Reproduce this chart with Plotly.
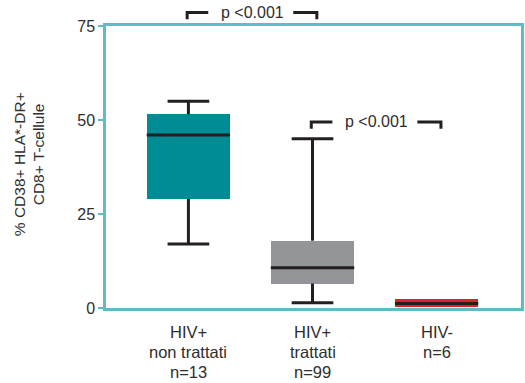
import plotly.graph_objects as go

# Groups and their box-plot summaries (% CD38+ HLA-DR+ of CD8+ T cells)
group_lines = [["HIV+", "non trattati", "n=13"],
               ["HIV+", "trattati", "n=99"],
               ["HIV-", "n=6"]]
whisker_low = [17.0, 1.4, 0.4]
quartile_1 = [29.0, 6.5, 0.4]
medians = [46.0, 10.7, 1.2]
quartile_3 = [51.5, 17.9, 2.4]
whisker_high = [55.0, 45.0, 2.4]

y_ticks = [0, 25, 50, 75]
y_range = [0, 75]
y_title_lines = ["% CD38+ HLA*-DR+", "CD8+ T-cellule"]

# Pairwise comparisons shown with brackets
compare_pairs = [(0, 1), (1, 2)]
compare_levels = [78.6, 49.5]
compare_labels = ["p <0.001", "p <0.001"]

box_colors = ["#008C95", "#939598", "#E21F26"]
dark = "#231F20"
text_color = "#2E2E2E"
axis_color = "#5DBDC6"
font_family = "Liberation Sans, Arial, sans-serif"

x_pos = list(range(len(group_lines)))
box_w = 0.672
cap_w = box_w / 2


def to_paper(v):
    return (v - y_range[0]) / (y_range[1] - y_range[0])


fig = go.Figure()

# Interquartile boxes
fig.add_trace(go.Bar(
    x=x_pos,
    y=[q3 - q1 for q1, q3 in zip(quartile_1, quartile_3)],
    base=quartile_1,
    width=box_w,
    marker=dict(color=box_colors, line=dict(width=0)),
    hoverinfo="skip",
    showlegend=False,
))

# Whiskers and caps
wx, wy = [], []
for x, lo, q1, q3, hi in zip(x_pos, whisker_low, quartile_1, quartile_3, whisker_high):
    if hi > q3:
        wx += [x, x, None, x - cap_w / 2, x + cap_w / 2, None]
        wy += [q3, hi, None, hi, hi, None]
    if lo < q1:
        wx += [x, x, None, x - cap_w / 2, x + cap_w / 2, None]
        wy += [q1, lo, None, lo, lo, None]
fig.add_trace(go.Scatter(x=wx, y=wy, mode="lines",
                         line=dict(color=dark, width=3),
                         hoverinfo="skip", showlegend=False))

# Median lines
mx, my = [], []
for x, m in zip(x_pos, medians):
    mx += [x - box_w / 2, x + box_w / 2, None]
    my += [m, m, None]
fig.add_trace(go.Scatter(x=mx, y=my, mode="lines",
                         line=dict(color=dark, width=3),
                         hoverinfo="skip", showlegend=False))

# Significance brackets (y in paper units so they may sit above the frame)
shapes = []
annotations = []
for (a, b), lvl, lab in zip(compare_pairs, compare_levels, compare_labels):
    left, right = a - 0.01, b + 0.035
    top = to_paper(lvl)
    foot = to_paper(lvl - 1.8)
    left_arm = f"M {left},{foot} L {left},{top} L {left + 0.17},{top}"
    right_arm = f"M {right - 0.19},{top} L {right},{top} L {right},{foot}"
    for p in (left_arm, right_arm):
        shapes.append(dict(type="path", xref="x", yref="paper", path=p,
                           line=dict(color=dark, width=3)))
    annotations.append(dict(
        x=(left + right) / 2, y=top, xref="x", yref="paper",
        text=lab, showarrow=False, xanchor="center", yanchor="middle",
        font=dict(family=font_family, size=16, color=text_color),
    ))

# Category labels, one line at a time
line_offsets = [23.5, 43.5, 63.5]
for x, lines in zip(x_pos, group_lines):
    for i, txt in enumerate(lines):
        annotations.append(dict(
            x=x, y=0, xref="x", yref="paper",
            yshift=-line_offsets[i],
            text=txt, showarrow=False, xanchor="center", yanchor="middle",
            font=dict(family=font_family, size=16.5, color=text_color),
        ))

# Rotated y-axis title
title_x_px = [19, 38]
title_y_mid = [0.51, 0.545]
for i, txt in enumerate(y_title_lines):
    annotations.append(dict(
        x=0, y=title_y_mid[i], xref="paper", yref="paper",
        xshift=title_x_px[i] - 106,
        text=txt, textangle=-90, showarrow=False,
        xanchor="center", yanchor="middle",
        font=dict(family=font_family, size=15.5, color=text_color),
    ))

fig.update_layout(
    width=525, height=383,
    margin=dict(l=106, r=1, t=26, b=75),
    plot_bgcolor="white", paper_bgcolor="white",
    bargap=0,
    annotations=annotations,
    shapes=shapes,
    xaxis=dict(
        range=[-0.664, 2.68],
        showticklabels=False, ticks="",
        showgrid=False, zeroline=False,
        showline=True, mirror=True,
        linecolor=axis_color, linewidth=2.5,
        fixedrange=True,
    ),
    yaxis=dict(
        range=y_range,
        tickvals=y_ticks, ticktext=[str(v) for v in y_ticks],
        ticks="outside", ticklen=5, tickwidth=2, tickcolor=axis_color,
        tickfont=dict(family=font_family, size=16, color=text_color),
        showgrid=False, zeroline=False,
        showline=True, mirror=True,
        linecolor=axis_color, linewidth=2.5,
        fixedrange=True,
    ),
)

fig.write_html("out.html")
